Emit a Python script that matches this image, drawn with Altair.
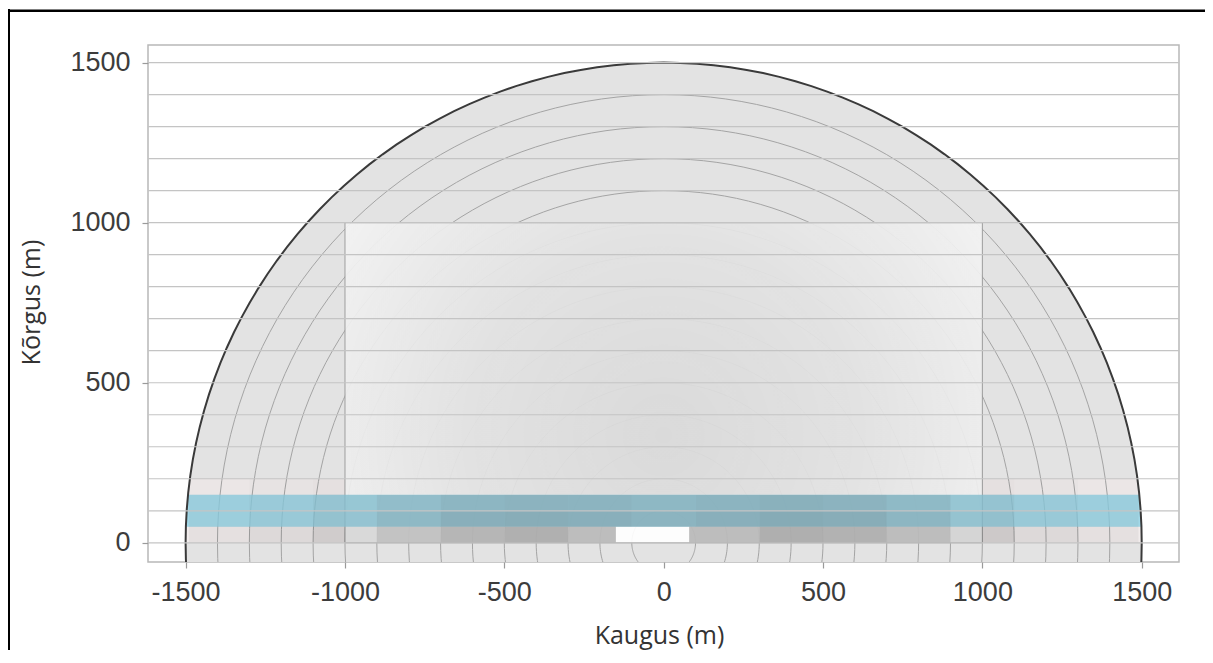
import math
import altair as alt
import pandas as pd

# ---------------- data ----------------
ring_radii = [100, 200, 300, 400, 500, 600, 700, 800, 900, 1000, 1100, 1200, 1300, 1400]
outer_radius = 1500
grid_heights = [0, 100, 200, 300, 400, 500, 600, 700, 800, 900, 1000, 1100, 1200, 1300, 1400, 1500]
x_tick_values = [-1500, -1000, -500, 0, 500, 1000, 1500]
y_tick_values = [0, 500, 1000, 1500]
inner_box_x = [-1000, 1000]
inner_box_y = [0, 1000]
blue_band_y = [50, 150]
light_strip_y = [0, 200]
cloud_y = [150, 1000]  # the scattered-dot cloud inside the inner box

# estimated dot density (share of dark ink) in the low strip, per 50 m row
strip_rows = [
    # (y from, y to, column edges, densities)
    (0, 50,
     [-1490, -1300, -1100, -900, -700, -500, -300, -150, 80, 300, 500, 700, 900, 1100, 1300, 1490],
     [0.08, 0.12, 0.20, 0.32, 0.40, 0.43, 0.36, 0.00, 0.36, 0.44, 0.42, 0.36, 0.22, 0.12, 0.08]),
    (50, 100,
     [-1490, -1300, -1100, -900, -700, -500, -300, -100, 100, 300, 500, 700, 900, 1100, 1300, 1490],
     [0.08, 0.11, 0.16, 0.24, 0.30, 0.32, 0.30, 0.27, 0.30, 0.33, 0.32, 0.26, 0.17, 0.11, 0.08]),
    (100, 150,
     [-1490, -1300, -1100, -900, -700, -500, -300, -100, 100, 300, 500, 700, 900, 1100, 1300, 1490],
     [0.07, 0.10, 0.14, 0.21, 0.26, 0.28, 0.27, 0.25, 0.27, 0.29, 0.28, 0.23, 0.15, 0.10, 0.07]),
    (150, 200,
     [-1490, -1300, -1100, -1000],
     [0.04, 0.06, 0.08]),
    (150, 200,
     [1000, 1100, 1300, 1490],
     [0.08, 0.06, 0.04]),
]

# ---------------- derived tables ----------------
ring_rows = []
for r in ring_radii + [outer_radius]:
    for a in range(0, 361, 2):
        t = math.radians(a)
        ring_rows.append({"r": r, "a": a, "x": r * math.cos(t), "y": r * math.sin(t)})
rings = pd.DataFrame(ring_rows)

disk = pd.DataFrame(
    [{"x": outer_radius * math.cos(math.radians(a)),
      "y": outer_radius * math.sin(math.radians(a)),
      "y2": -outer_radius * math.sin(math.radians(a))} for a in range(0, 181)]
)


def chord_band(y0, y1, steps=8):
    rows = []
    for i in range(steps + 1):
        y = y0 + (y1 - y0) * i / steps
        half = math.sqrt(outer_radius ** 2 - y ** 2)
        rows.append({"y": y, "xl": -half, "xr": half})
    return pd.DataFrame(rows)


strip = chord_band(*light_strip_y)
band = chord_band(*blue_band_y)
box = pd.DataFrame([{"x": inner_box_x[0], "x2": inner_box_x[1], "y": inner_box_y[0], "y2": inner_box_y[1]}])
cloud = pd.DataFrame([{"x": inner_box_x[0], "x2": inner_box_x[1], "y": cloud_y[0], "y2": cloud_y[1]}])

cells = []
for y0, y1, edges, dens in strip_rows:
    for j in range(len(dens)):
        cells.append({"x": edges[j], "x2": edges[j + 1], "y": y0, "y2": y1, "d": dens[j]})
cells = pd.DataFrame(cells)
grid = pd.DataFrame({"y": grid_heights})

# ---------------- scales / axes ----------------
XS = alt.Scale(domain=[-1618, 1617], nice=False, zero=False)
YS = alt.Scale(domain=[-60, 1555], nice=False, zero=False)
XA = alt.Axis(values=x_tick_values, title="Kaugus (m)", grid=False, domain=False,
              labelExpr="'' + datum.value",
              titleX=511, titleY=81, titleBaseline="alphabetic", titleAnchor="middle", titleAlign="center",
              labelPadding=11, labelFlush=False)
YA = alt.Axis(values=y_tick_values, title="Kõrgus (m)", grid=False, domain=False,
              labelExpr="'' + datum.value",
              titleX=-109, titleY=257, titleAngle=-90, titleBaseline="alphabetic", titleAlign="center",
              labelPadding=12)


def X(f):
    return alt.X(f, type="quantitative", scale=XS, axis=XA)


def Y(f):
    return alt.Y(f, type="quantitative", scale=YS, axis=YA)


disk_layer = alt.Chart(disk).mark_area(color="#e3e3e3", clip=True, orient="vertical").encode(
    x=X("x"), y=Y("y"), y2="y2")

strip_layer = alt.Chart(strip).mark_area(color="#f2eded", orient="horizontal").encode(
    y=Y("y"), x=X("xl"), x2="xr")

ring_layer = alt.Chart(rings[rings.r < outer_radius]).mark_line(
    color="#a4a4a4", strokeWidth=1, clip=True).encode(
    x=X("x"), y=Y("y"), detail="r:N", order="a:Q")

box_layer = alt.Chart(box).mark_rect(color="#ffffff", opacity=0.92, stroke="#9a9a9a", strokeWidth=1).encode(
    x=X("x"), x2="x2", y=Y("y"), y2="y2")

cloud_fill = alt.Gradient(
    gradient="radial", x1=0.5, y1=0.62, r1=0, x2=0.5, y2=0.62, r2=0.62,
    stops=[alt.GradientStop(offset=0, color="rgba(70,70,70,0.19)"),
           alt.GradientStop(offset=0.5, color="rgba(70,70,70,0.14)"),
           alt.GradientStop(offset=1, color="rgba(70,70,70,0.05)")])
cloud_layer = alt.Chart(cloud).mark_rect(fill=cloud_fill, strokeWidth=0).encode(
    x=X("x"), x2="x2", y=Y("y"), y2="y2")

band_layer = alt.Chart(band).mark_area(color="#8ed3e7", opacity=0.8, orient="horizontal").encode(
    y=Y("y"), x=X("xl"), x2="xr")

dots_layer = alt.Chart(cells).mark_rect(color="#4a4a4a").encode(
    x=X("x"), x2="x2", y=Y("y"), y2="y2", opacity=alt.Opacity("d:Q", scale=None, legend=None))

outline_layer = alt.Chart(rings[rings.r == outer_radius]).mark_line(
    color="#3a3a3a", strokeWidth=2, clip=True).encode(
    x=X("x"), y=Y("y"), order="a:Q")

grid_layer = alt.Chart(grid).mark_rule(color="#c4c4c4", strokeWidth=1.2).encode(y=Y("y"))

one = pd.DataFrame({"k": [0]})
border_left = alt.Chart(one).mark_rule(color="#000000", strokeWidth=3).encode(
    x=alt.value(-139.5), y=alt.value(-36), y2=alt.value(610))
border_top = alt.Chart(one).mark_rule(color="#000000", strokeWidth=2.5).encode(
    x=alt.value(-140), x2=alt.value(1060), y=alt.value(-34.3))

chart = alt.layer(
    disk_layer, strip_layer, ring_layer, box_layer, cloud_layer, band_layer, dots_layer,
    outline_layer, grid_layer, border_left, border_top
).properties(
    width=1031, height=517,
    autosize=alt.AutoSizeParams(type="none"),
    padding={"left": 140, "top": 37, "right": 26, "bottom": 88},
).configure_view(
    stroke="#b8b8b8", strokeWidth=1.5
).configure_axis(
    labelFont="Liberation Sans", labelFontSize=27, labelColor="#3c3c3c",
    tickColor="#9a9a9a", tickSize=6, tickWidth=1.2,
    titleFont="Open Sans", titleFontSize=25, titleFontWeight="normal", titleColor="#333333",
)

chart.save("out.html", embed_options={"renderer": "svg", "actions": False})
